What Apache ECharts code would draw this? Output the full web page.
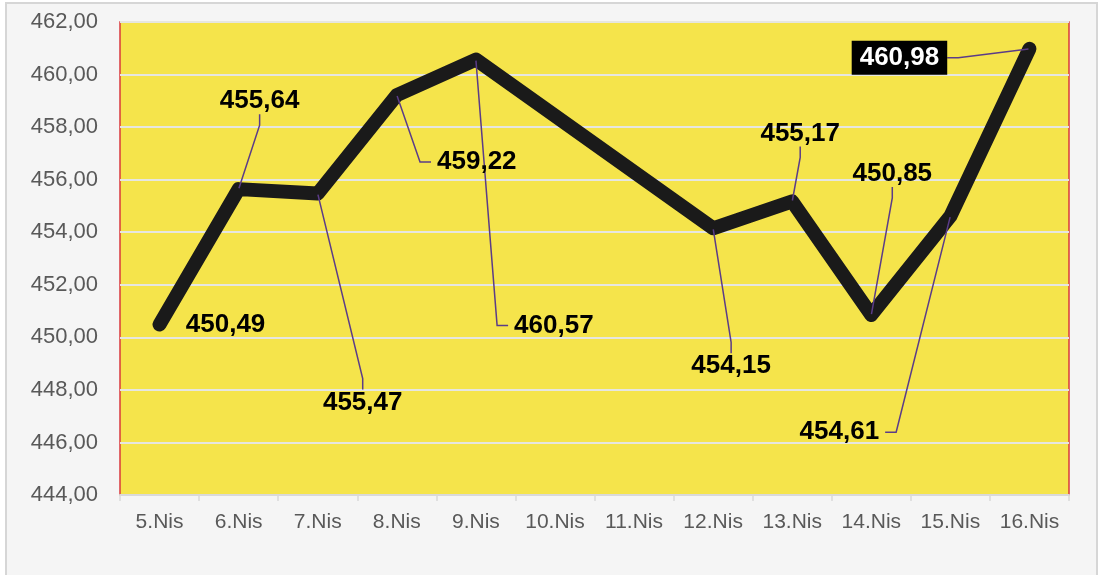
<!DOCTYPE html>
<html>
<head>
<meta charset="utf-8">
<title>Grafik</title>
<script src="https://cdn.jsdelivr.net/npm/echarts@6/dist/echarts.min.js"></script>
</head>
<body style="margin:0;background:#ffffff;">
<div id="chart" style="width:1117px;height:575px;"></div>
<script>
// kategoriler ve degerler (10 ve 11 Nisan bos)
var days = ['5.Nis', '6.Nis', '7.Nis', '8.Nis', '9.Nis', '10.Nis', '11.Nis', '12.Nis', '13.Nis', '14.Nis', '15.Nis', '16.Nis'];
var values = [450.49, 455.64, 455.47, 459.22, 460.57, null, null, 454.15, 455.17, 450.85, 454.61, 460.98];
var yTicks = [444, 446, 448, 450, 452, 454, 456, 458, 460, 462];

// etiket kaydirmalari (px), veri disinda tutuldu
var labelShift = [[66, 0], [21, -88], [45, 209], [80, 67], [115, 266], [0, 0], [0, 0], [18, 138], [8, -68], [21, -141], [-123, 216], [-130, 9]];

function fmt(v) {
    return v.toFixed(2).replace('.', ',');
}

var chart = echarts.init(document.getElementById('chart'));

var seriesData = values.map(function (v, i) {
    var item = { value: v };
    if (i === 0) {
        item.labelLine = { show: false };
    }
    if (i === 4) {
        // sag bosluk: cizgi soldan baglansin
        item.label = { padding: [0, 80, 0, 6] };
    }
    if (i === 10) {
        item.label = { padding: [0, 6, 0, 30] };
    }
    if (i === values.length - 1) {
        item.label = { color: '#ffffff', backgroundColor: '#000000', padding: [5, 8, 3, 8] };
    }
    return item;
});

var option = {
    animation: false,
    graphic: [{
        type: 'rect',
        z: -10,
        shape: { x: 6, y: 3, width: 1091, height: 582 },
        style: { fill: '#f5f5f5', stroke: '#d6d6d6', lineWidth: 2 }
    }],
    grid: {
        left: 120, top: 22, width: 949, height: 473,
        show: true,
        backgroundColor: '#f5e44b',
        borderColor: '#d9383c',
        borderWidth: 1.5
    },
    xAxis: {
        type: 'category',
        data: days,
        boundaryGap: true,
        axisLine: { lineStyle: { color: '#d9d9d9', width: 2 } },
        axisTick: { show: true, interval: 0, length: 6, lineStyle: { color: '#d9d9d9', width: 1.5 } },
        axisLabel: { interval: 0, color: '#595959', fontSize: 21, fontFamily: 'Liberation Sans, Arial', margin: 17 },
        splitLine: { show: false }
    },
    yAxis: {
        type: 'value',
        min: yTicks[0],
        max: yTicks[yTicks.length - 1],
        interval: 2,
        axisLine: { show: false },
        axisTick: { show: false },
        axisLabel: {
            color: '#595959', fontSize: 22, fontFamily: 'Liberation Sans, Arial', margin: 22,
            formatter: function (v) { return fmt(v); }
        },
        splitLine: { lineStyle: { color: '#e6e6e0', width: 2 } }
    },
    series: [{
        type: 'line',
        data: seriesData,
        connectNulls: true,
        symbol: 'circle',
        symbolSize: 2,
        showSymbol: true,
        itemStyle: { color: 'rgba(0,0,0,0)' },
        lineStyle: { color: '#1a1a1a', width: 14, cap: 'round', join: 'round' },
        label: {
            show: true,
            position: 'inside',
            color: '#000000',
            fontSize: 26,
            fontWeight: 'bold',
            fontFamily: 'Liberation Sans, Arial',
            backgroundColor: 'rgba(0,0,0,0)',
            padding: [0, 6],
            formatter: function (p) { return fmt(p.value); }
        },
        labelLine: {
            show: true,
            length2: 11,
            lineStyle: { color: '#5b3c88', width: 1.5 }
        },
        labelLayout: function (p) {
            var s = labelShift[p.dataIndex];
            return { dx: s[0], dy: s[1] };
        }
    }]
};

chart.setOption(option);
</script>
</body>
</html>
